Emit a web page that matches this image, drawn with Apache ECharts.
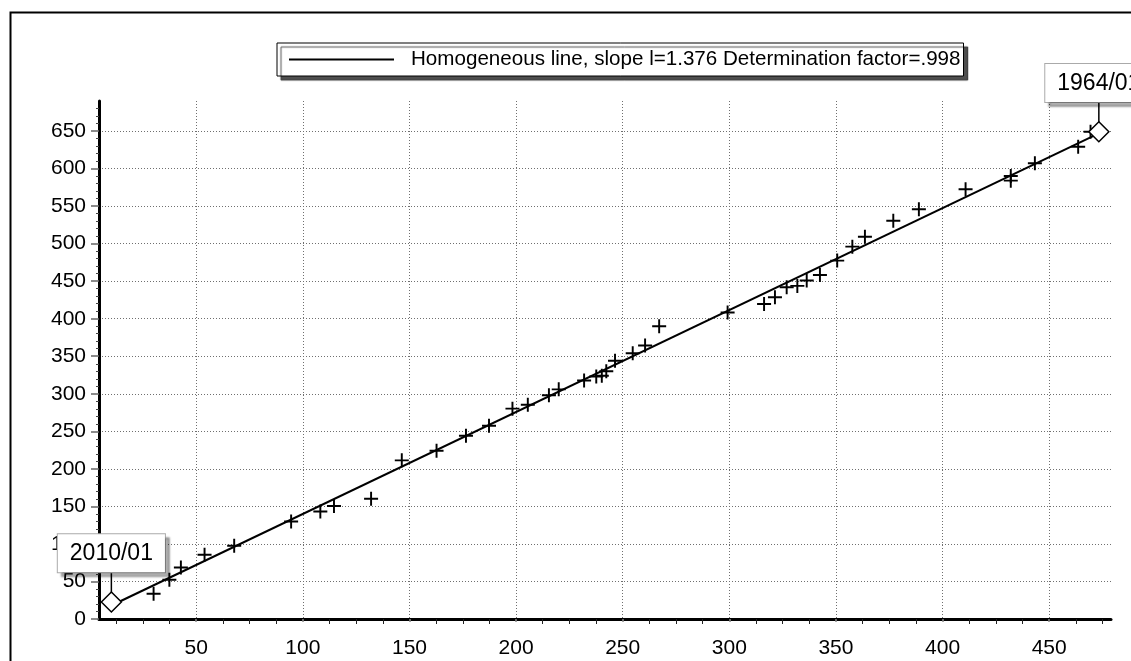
<!DOCTYPE html>
<html>
<head>
<meta charset="utf-8">
<script src="https://cdn.jsdelivr.net/npm/echarts@6/dist/echarts.min.js"></script>
<style>
html,body{margin:0;padding:0;background:#fff;}
#chart{width:1131px;height:661px;}
</style>
</head>
<body>
<div id="chart"></div>
<script>
// ---- data ----
const legendName = 'Homogeneous line, slope l=1.376 Determination factor=.998';
const xMajorTicks = [50, 100, 150, 200, 250, 300, 350, 400, 450];
const yMajorTicks = [0, 50, 100, 150, 200, 250, 300, 350, 400, 450, 500, 550, 600, 650];
const xMinorTicks = [12.5, 25, 37.5, 62.5, 75, 87.5, 112.5, 125, 137.5, 162.5, 175, 187.5, 212.5, 225, 237.5, 262.5, 275, 287.5, 312.5, 325, 337.5, 362.5, 375, 387.5, 412.5, 425, 437.5, 462.5, 475];
const yMinorTicks = [10, 20, 30, 40, 60, 70, 80, 90, 110, 120, 130, 140, 160, 170, 180, 190, 210, 220, 230, 240, 260, 270, 280, 290, 310, 320, 330, 340, 360, 370, 380, 390, 410, 420, 430, 440, 460, 470, 480, 490, 510, 520, 530, 540, 560, 570, 580, 590, 610, 620, 630, 640, 660, 670, 680];
const pointsX = [30.0, 37.4, 42.8, 53.9, 67.8, 94.5, 108.2, 114.6, 132.0, 146.4, 162.7, 176.5, 187.3, 198.3, 205.5, 215.4, 220.0, 231.9, 237.6, 240.2, 242.3, 246.4, 254.7, 260.5, 267.1, 299.2, 316.3, 321.4, 326.9, 331.9, 336.3, 342.5, 350.6, 357.7, 363.6, 376.9, 388.9, 410.8, 432.0, 432.0, 443.3, 463.6, 469.4];
const pointsY = [33.7, 52.3, 68.7, 85.6, 97.6, 130.0, 143.2, 150.4, 160.3, 211.3, 224.2, 244.2, 257.5, 280.2, 285.3, 298.1, 305.9, 317.6, 323.0, 324.0, 330.0, 344.0, 354.0, 364.2, 390.0, 408.2, 419.7, 428.6, 442.0, 443.7, 450.8, 458.3, 477.4, 496.0, 509.3, 530.6, 545.8, 572.4, 590.0, 583.9, 607.0, 629.1, 649.1];
const endDates = ['2010/01', '1964/01'];
const endX = [10.2, 473.3];
const endY = [22.6, 649.1];
const lineX = [10.2, 473.3];
const lineY = [18, 647];

// ---- chart ----
const FONT = 'Liberation Sans, Arial, sans-serif';
const chart = echarts.init(document.getElementById('chart'), null, {renderer: 'canvas'});
const xMin = 4.4, xMax = 479, yMin = 0, yMax = 690;
const GRID_LINE = {type: [1, 2], color: '#6f6f6f', width: 1};

const option = {
  animation: false,
  backgroundColor: '#fff',
  grid: {left: 99, right: 20, top: 101, bottom: 42},
  legend: {
    left: 277, top: 43,
    data: [{name: legendName, icon: 'rect'}],
    itemWidth: 105, itemHeight: 2,
    padding: [6, 3, 6, 12],
    backgroundColor: '#fff',
    borderColor: '#000', borderWidth: 1,
    shadowColor: 'rgba(60,60,60,0.9)', shadowBlur: 1, shadowOffsetX: 4, shadowOffsetY: 4,
    itemStyle: {color: '#000'},
    textStyle: {fontFamily: FONT, fontSize: 20.6, color: '#000', padding: [0, 0, 0, 12]}
  },
  xAxis: [{
    type: 'value', min: xMin, max: xMax,
    axisLine: {show: true, onZero: false, lineStyle: {color: '#000', width: 3}},
    axisTick: {show: true, customValues: xMajorTicks, length: 3, lineStyle: {color: '#888', width: 1.5}},
    axisLabel: {customValues: xMajorTicks, fontFamily: FONT, fontSize: 21, color: '#000', margin: 19},
    splitLine: {show: true, lineStyle: GRID_LINE}
  }, {
    type: 'value', min: xMin, max: xMax, position: 'bottom',
    axisLine: {show: false},
    axisTick: {show: true, customValues: xMinorTicks, length: 5, lineStyle: {color: '#222', width: 1}},
    axisLabel: {show: false},
    splitLine: {show: false}
  }],
  yAxis: [{
    type: 'value', min: yMin, max: yMax, position: 'left',
    axisLine: {show: true, onZero: false, lineStyle: {color: '#000', width: 3}},
    axisTick: {show: true, customValues: yMajorTicks, length: 8, lineStyle: {color: '#666', width: 1.5}},
    axisLabel: {customValues: yMajorTicks, fontFamily: FONT, fontSize: 21, color: '#000', margin: 13},
    splitLine: {show: true, lineStyle: GRID_LINE}
  }, {
    type: 'value', min: yMin, max: yMax, position: 'left',
    axisLine: {show: false},
    axisTick: {show: true, customValues: yMinorTicks, length: 3, lineStyle: {color: '#444', width: 1}},
    axisLabel: {show: false},
    splitLine: {show: false}
  }],
  graphic: [{
    type: 'rect', left: 8, top: 10, z: 100, silent: true,
    shape: {x: 0, y: 0, width: 1200, height: 700},
    style: {fill: 'none', stroke: '#000', lineWidth: 2}
  }],
  series: [{
    name: legendName,
    type: 'line',
    xAxisIndex: 0, yAxisIndex: 0,
    data: lineX.map((x, i) => [x, lineY[i]]),
    symbol: 'none',
    lineStyle: {color: '#000', width: 2},
    itemStyle: {color: '#000'},
    z: 3
  }, {
    name: 'points',
    type: 'scatter',
    xAxisIndex: 0, yAxisIndex: 0,
    data: pointsX.map((x, i) => [x, pointsY[i]]),
    symbol: 'path://M5.6,0H7.4V5.6H13V7.4H7.4V13H5.6V7.4H0V5.6H5.6Z',
    symbolSize: 14,
    itemStyle: {color: '#000', opacity: 1},
    z: 4
  }, {
    name: 'leaders',
    type: 'custom',
    xAxisIndex: 0, yAxisIndex: 0,
    data: endX.map((x, i) => [x, endY[i]]),
    renderItem: function (params, api) {
      const p = api.coord([api.value(0), api.value(1)]);
      return {
        type: 'line',
        shape: {x1: p[0], y1: p[1] - 8, x2: p[0], y2: p[1] - 29},
        style: {stroke: '#000', lineWidth: 1.5}
      };
    },
    z: 5
  }, {
    name: 'ends',
    type: 'scatter',
    xAxisIndex: 0, yAxisIndex: 0,
    data: endX.map((x, i) => ({value: [x, endY[i]], name: endDates[i]})),
    symbol: 'diamond',
    symbolSize: 20,
    itemStyle: {color: '#fff', borderColor: '#000', borderWidth: 1.5, opacity: 1},
    label: {
      show: true, position: 'top', distance: 19,
      formatter: p => p.name,
      fontFamily: FONT, fontSize: 23, color: '#000',
      backgroundColor: '#fff', borderColor: '#aaa', borderWidth: 1,
      padding: [8, 12, 7, 12],
      shadowColor: 'rgba(0,0,0,0.3)', shadowBlur: 2, shadowOffsetX: 4, shadowOffsetY: 4
    },
    z: 6
  }]
};
chart.setOption(option);
</script>
</body>
</html>
